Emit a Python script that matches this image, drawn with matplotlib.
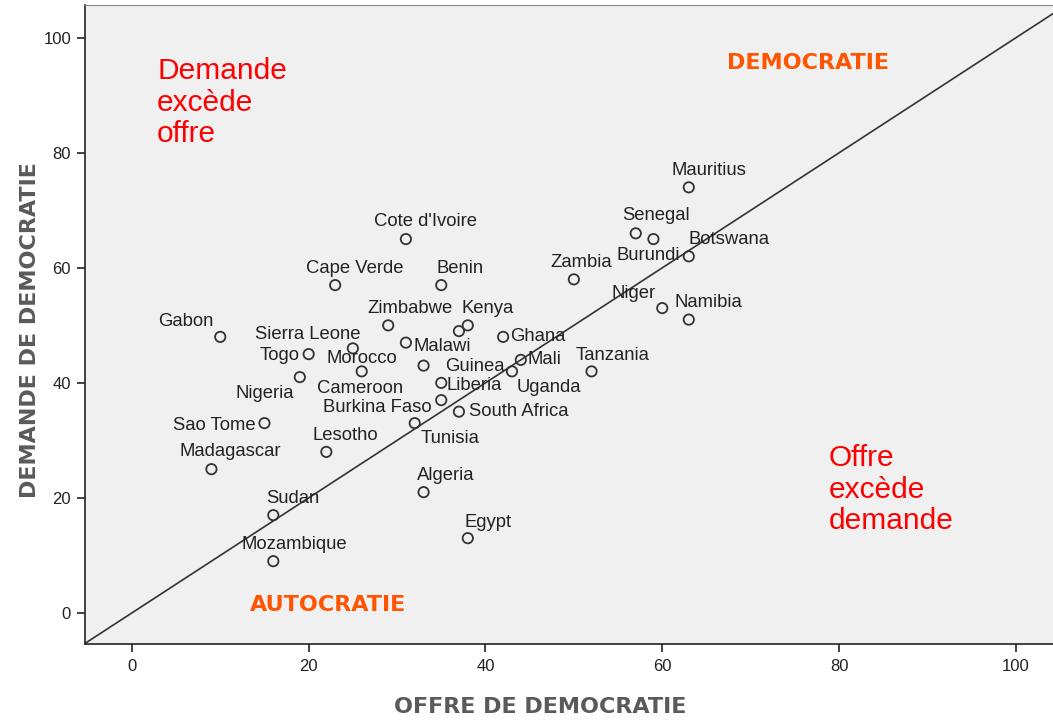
import matplotlib
matplotlib.use("Agg")
import matplotlib.pyplot as plt

# Data: offre (supply) and demande (demand) of democracy
countries = ["Mauritius", "Senegal", "Burundi", "Botswana", "Zambia", "Niger", "Namibia",
             "Ghana", "Mali", "Uganda", "Tanzania", "Cote d'Ivoire", "Cape Verde", "Benin",
             "Zimbabwe", "Kenya", "Guinea", "Morocco", "Cameroon", "Gabon", "Sierra Leone",
             "Malawi", "Togo", "Nigeria", "Liberia", "Burkina Faso", "South Africa", "Tunisia",
             "Sao Tome", "Lesotho", "Madagascar", "Sudan", "Algeria", "Mozambique", "Egypt"]
offre = [63, 57, 59, 63, 50, 60, 63,
         42, 44, 43, 52, 31, 23, 35,
         29, 38, 37, 33, 26, 10, 25,
         31, 20, 19, 35, 35, 37, 32,
         15, 22, 9, 16, 33, 16, 38]
demande = [74, 66, 65, 62, 58, 53, 51,
           48, 44, 42, 42, 65, 57, 57,
           50, 50, 49, 43, 42, 48, 46,
           47, 45, 41, 40, 37, 35, 33,
           33, 28, 25, 17, 21, 9, 13]

# label offsets in pixels (style only)
label_offsets = {
    "Mauritius": (20, 17), "Senegal": (20, 18), "Burundi": (-5, -16), "Botswana": (40, 17),
    "Zambia": (7, 17), "Niger": (-29, 15), "Namibia": (20, 17), "Ghana": (35, 0),
    "Mali": (24, 0), "Uganda": (37, -16), "Tanzania": (21, 16), "Cote d'Ivoire": (20, 18),
    "Cape Verde": (20, 17), "Benin": (19, 17), "Zimbabwe": (22, 17), "Kenya": (20, 17),
    "Guinea": (16, -35), "Morocco": (-62, 7), "Cameroon": (-2, -17), "Gabon": (-34, 15),
    "Sierra Leone": (-45, 14), "Malawi": (36, -4), "Togo": (-29, -1), "Nigeria": (-35, -16),
    "Liberia": (33, -3), "Burkina Faso": (-64, -7), "South Africa": (60, 0), "Tunisia": (35, -15),
    "Sao Tome": (-50, -2), "Lesotho": (19, 16), "Madagascar": (19, 18), "Sudan": (20, 17),
    "Algeria": (22, 17), "Mozambique": (21, 17), "Egypt": (20, 16),
}

x_ticks = [0, 20, 40, 60, 80, 100]
y_ticks = [0, 20, 40, 60, 80, 100]

W, H = 1053, 722
fig = plt.figure(figsize=(W / 100, H / 100), dpi=100)
fig.patch.set_facecolor("white")
ax = fig.add_axes([85 / W, (H - 644) / H, (W - 85) / W, (644 - 5) / H])
ax.set_facecolor("#F0F0F0")

ax.set_xlim(-5.3, 104.2)
ax.set_ylim(-5.4, 105.7)

# diagonal y = x
ax.plot([-10, 110], [-10, 110], color="#333333", lw=1.2, zorder=2)

ax.scatter(offre, demande, s=55, facecolors="none", edgecolors="#333333", linewidths=1.3, zorder=3)

for c, xv, yv in zip(countries, offre, demande):
    dx, dy = label_offsets[c]
    ax.annotate(c, (xv, yv), xytext=(dx, dy), textcoords="offset pixels",
                ha="center", va="center", fontsize=13.3, color="#222222",
                family="Liberation Sans", zorder=4)

ax.set_xticks(x_ticks)
ax.set_yticks(y_ticks)
ax.tick_params(axis="both", direction="out", length=6, width=1.2, colors="#222222",
               labelsize=12, pad=4)
for lab in ax.get_xticklabels() + ax.get_yticklabels():
    lab.set_family("Liberation Sans")
ax.tick_params(axis="x", pad=5)

for side in ["left", "bottom"]:
    ax.spines[side].set_color("#222222")
    ax.spines[side].set_linewidth(1.2)
ax.spines["top"].set_color("#888888")
ax.spines["right"].set_visible(False)

red = "#FF0000"
orange = "#FF5500"
ax.text(2.85, 96.6, "Demande\nexcède\noffre", color=red, fontsize=21.5, va="top", ha="left",
        linespacing=1.16, family="Liberation Sans")
ax.text(78.8, 29.3, "Offre\nexcède\ndemande", color=red, fontsize=21.5, va="top", ha="left",
        linespacing=1.16, family="Liberation Sans")
ax.text(76.5, 95.7, "DEMOCRATIE", color=orange, fontsize=16, fontweight="bold",
        ha="center", va="center")
ax.text(22.2, 1.3, "AUTOCRATIE", color=orange, fontsize=16, fontweight="bold",
        ha="center", va="center")

fig.text(540 / W, 1 - 707 / H, "OFFRE DE DEMOCRATIE", color="#5A5A5A", fontsize=16,
         fontweight="bold", ha="center", va="center")
fig.text(30 / W, 1 - 330 / H, "DEMANDE DE DEMOCRATIE", color="#5A5A5A", fontsize=16,
         fontweight="bold", ha="center", va="center", rotation=90)

fig.savefig("out.png", dpi=100)
